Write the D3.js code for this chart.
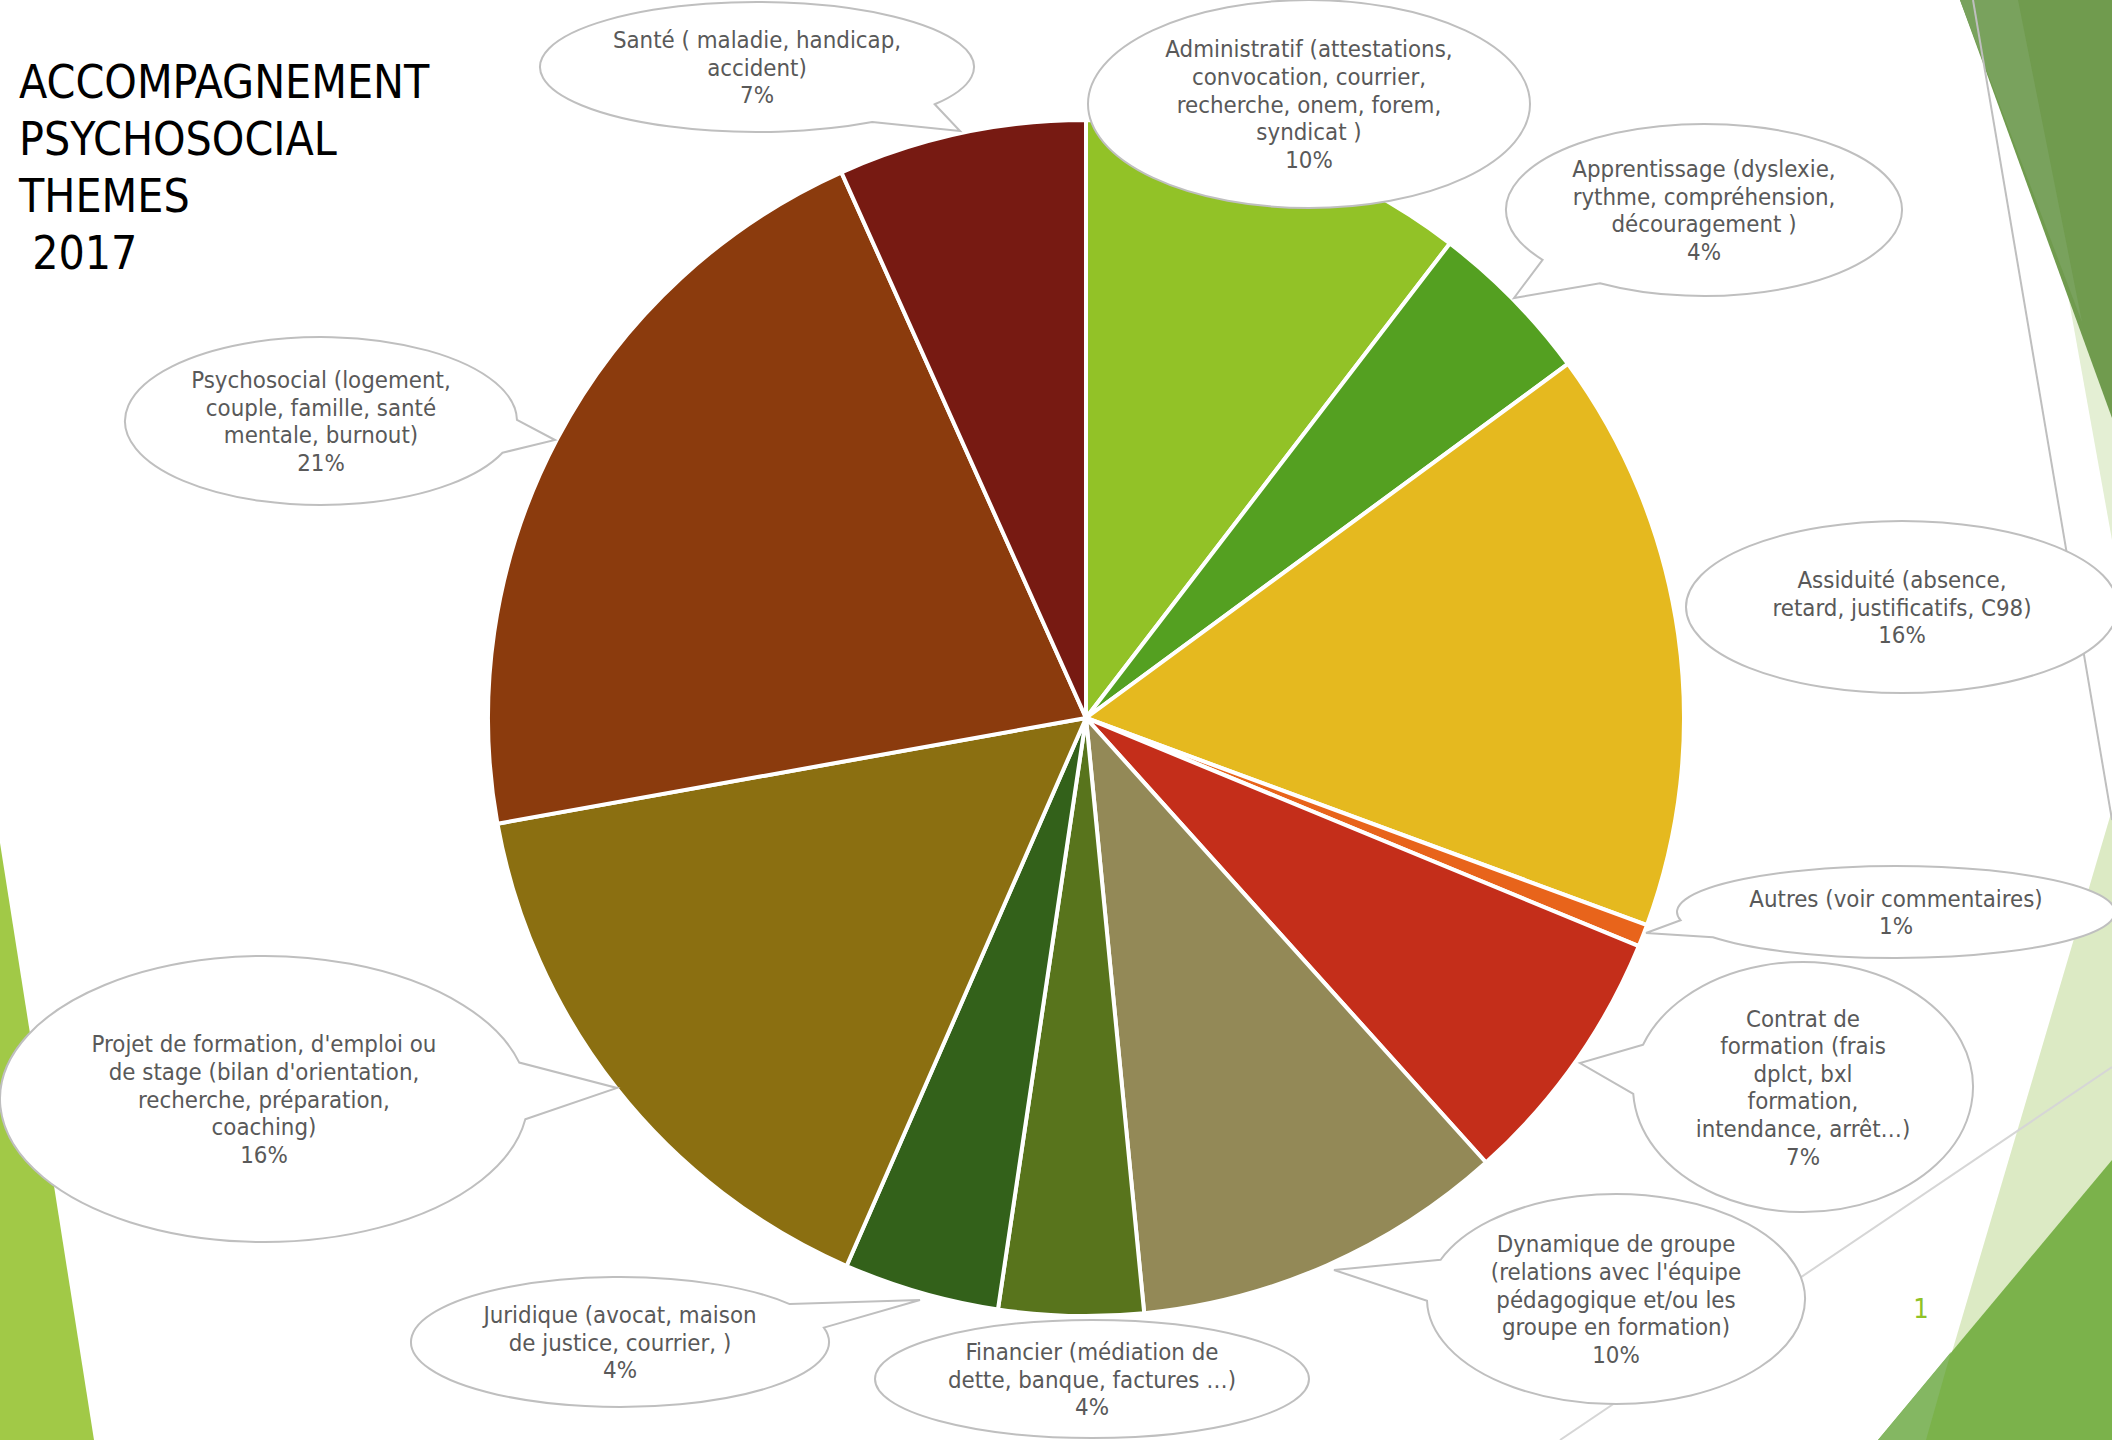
<!DOCTYPE html>
<html>
<head>
<meta charset="utf-8">
<script src="https://cdn.jsdelivr.net/npm/d3@7"></script>
<style>
  html, body { margin: 0; padding: 0; background: #fff; }
  svg { display: block; }
</style>
</head>
<body>
<svg id="chart"></svg>
<script>
// chart data
const categories = [
  'Administratif', 'Apprentissage', 'Assiduité', 'Autres', 'Contrat',
  'Dynamique', 'Financier', 'Juridique', 'Projet', 'Psychosocial', 'Santé'
];
const values = [10.4, 4.5, 15.7, 0.6, 7.1, 10.1, 3.9, 4.2, 15.6, 21.1, 6.7];
const labelLines = [
  ['Administratif (attestations,', 'convocation, courrier,', 'recherche, onem, forem,', 'syndicat )'],
  ['Apprentissage (dyslexie,', 'rythme, compréhension,', 'découragement )'],
  ['Assiduité (absence,', 'retard, justificatifs, C98)'],
  ['Autres (voir commentaires)'],
  ['Contrat de', 'formation (frais', 'dplct, bxl', 'formation,', 'intendance, arrêt…)'],
  ['Dynamique de groupe', '(relations avec l\'équipe', 'pédagogique et/ou les', 'groupe en formation)'],
  ['Financier (médiation de', 'dette, banque, factures …)'],
  ['Juridique (avocat, maison', 'de justice, courrier, )'],
  ['Projet de formation, d\'emploi ou', 'de stage (bilan d\'orientation,', 'recherche, préparation,', 'coaching)'],
  ['Psychosocial (logement,', 'couple, famille, santé', 'mentale, burnout)'],
  ['Santé ( maladie, handicap,', 'accident)']
];
const percentLabels = ['10%', '4%', '16%', '1%', '7%', '10%', '4%', '4%', '16%', '21%', '7%'];
const colors = [
  '#92c227', '#54a021', '#e5b91f', '#e8641b', '#c42e1a',
  '#938957', '#58741c', '#33611a', '#8b6f11', '#8b3b0d', '#771a12'
];
const titleLines = ['ACCOMPAGNEMENT', 'PSYCHOSOCIAL', 'THEMES', ' 2017'];

// layout
const W = 2112;
const H = 1440;
const CX = 1086;
const CY = 718;
const R = 598;
const FONT = '"DejaVu Sans Condensed", "DejaVu Sans", sans-serif';
const LINE_H = 27.6;

// callout ellipses, same order as categories (tip = wedge point, null = none)
const callouts = [
  { cx: 1309, cy: 104, rx: 221, ry: 104, tip: null },
  { cx: 1704, cy: 210, rx: 198, ry: 86, tip: [1514, 298] },
  { cx: 1902, cy: 607, rx: 216, ry: 86, tip: null },
  { cx: 1896, cy: 912, rx: 219, ry: 46, tip: [1646, 933] },
  { cx: 1803, cy: 1087, rx: 170, ry: 125, tip: [1580, 1063] },
  { cx: 1616, cy: 1299, rx: 189, ry: 105, tip: [1334, 1270] },
  { cx: 1092, cy: 1379, rx: 217, ry: 59, tip: null },
  { cx: 620, cy: 1342, rx: 209, ry: 65, tip: [920, 1300] },
  { cx: 264, cy: 1099, rx: 264, ry: 143, tip: [617, 1088] },
  { cx: 321, cy: 421, rx: 196, ry: 84, tip: [555, 440] },
  { cx: 757, cy: 67, rx: 217, ry: 65, tip: [960, 131] }
];

const svg = d3.select('#chart').attr('width', W).attr('height', H);

// slide background facets
const facets = [
  { pts: [[0, 843], [94, 1440], [0, 1440]], fill: '#a1c947' },
  { pts: [[2015, 0], [2112, 0], [2112, 540]], fill: '#e4efd4' },
  { pts: [[1960, 0], [2112, 0], [2112, 418]], fill: '#709b4e' },
  { pts: [[1960, 0], [2018, 0], [2082, 322]], fill: '#79a25d' },
  { pts: [[2112, 810], [2112, 1440], [1926, 1440]], fill: '#dceac4' },
  { pts: [[2112, 1160], [2112, 1440], [1878, 1440]], fill: '#7bb24b' },
  { pts: [[1878, 1440], [1951, 1352], [1926, 1440]], fill: '#84b762' }
];
svg.selectAll('polygon.facet')
  .data(facets)
  .enter()
  .append('polygon')
  .attr('class', 'facet')
  .attr('points', d => d.pts.map(p => p.join(',')).join(' '))
  .attr('fill', d => d.fill);

const rules = [
  { a: [1973, 0], b: [2112, 820], c: '#bfbfbf' },
  { a: [2112, 1067], b: [1560, 1440], c: '#d6d6d6' }
];
svg.selectAll('line.rule')
  .data(rules)
  .enter()
  .append('line')
  .attr('x1', d => d.a[0]).attr('y1', d => d.a[1])
  .attr('x2', d => d.b[0]).attr('y2', d => d.b[1])
  .attr('stroke', d => d.c)
  .attr('stroke-width', 2);

// pie
const pie = d3.pie().sort(null).value(d => d);
const arc = d3.arc().innerRadius(0).outerRadius(R);
const arcs = pie(values);

svg.append('g')
  .attr('transform', `translate(${CX},${CY})`)
  .selectAll('path')
  .data(arcs)
  .enter()
  .append('path')
  .attr('d', arc)
  .attr('fill', (d, i) => colors[i])
  .attr('stroke', '#fff')
  .attr('stroke-width', 4)
  .attr('stroke-linejoin', 'round');

// callouts
function calloutPath(c) {
  const { cx, cy, rx, ry, tip } = c;
  if (!tip) {
    return `M${cx - rx},${cy} A${rx},${ry} 0 1,0 ${cx + rx},${cy} A${rx},${ry} 0 1,0 ${cx - rx},${cy} Z`;
  }
  const a = Math.atan2((tip[1] - cy) / ry, (tip[0] - cx) / rx);
  const h = 0.2;
  const p1 = [cx + rx * Math.cos(a - h), cy + ry * Math.sin(a - h)];
  const p2 = [cx + rx * Math.cos(a + h), cy + ry * Math.sin(a + h)];
  return `M${p2} L${tip} L${p1} A${rx},${ry} 0 1,0 ${p2} Z`;
}

const labels = svg.append('g')
  .selectAll('g.callout')
  .data(arcs)
  .enter()
  .append('g')
  .attr('class', 'callout');

labels.append('path')
  .attr('d', (d, i) => calloutPath(callouts[i]))
  .attr('fill', '#fff')
  .attr('stroke', '#bfbfbf')
  .attr('stroke-width', 2);

labels.each((d, i, n) => {
  const c = callouts[i];
  const lines = labelLines[i].concat(percentLabels[i]);
  const y0 = c.cy - ((lines.length - 1) * LINE_H) / 2;
  d3.select(n[i])
    .append('text')
    .attr('text-anchor', 'middle')
    .attr('font-family', FONT)
    .attr('font-size', 23.8)
    .attr('fill', '#595959')
    .selectAll('tspan')
    .data(lines)
    .enter()
    .append('tspan')
    .attr('x', c.cx)
    .attr('y', (t, j) => y0 + j * LINE_H)
    .attr('dy', '0.36em')
    .text(t => t);
});

// title
svg.append('text')
  .attr('font-family', FONT)
  .attr('font-size', 46)
  .attr('fill', '#000')
  .attr('xml:space', 'preserve')
  .selectAll('tspan')
  .data(titleLines)
  .enter()
  .append('tspan')
  .attr('x', 19)
  .attr('y', (t, i) => 98 + i * 57)
  .text(t => t);

// slide number
svg.append('text')
  .attr('x', 1921)
  .attr('y', 1318)
  .attr('text-anchor', 'middle')
  .attr('font-family', FONT)
  .attr('font-size', 27)
  .attr('fill', '#90c226')
  .text('1');
</script>
</body>
</html>
